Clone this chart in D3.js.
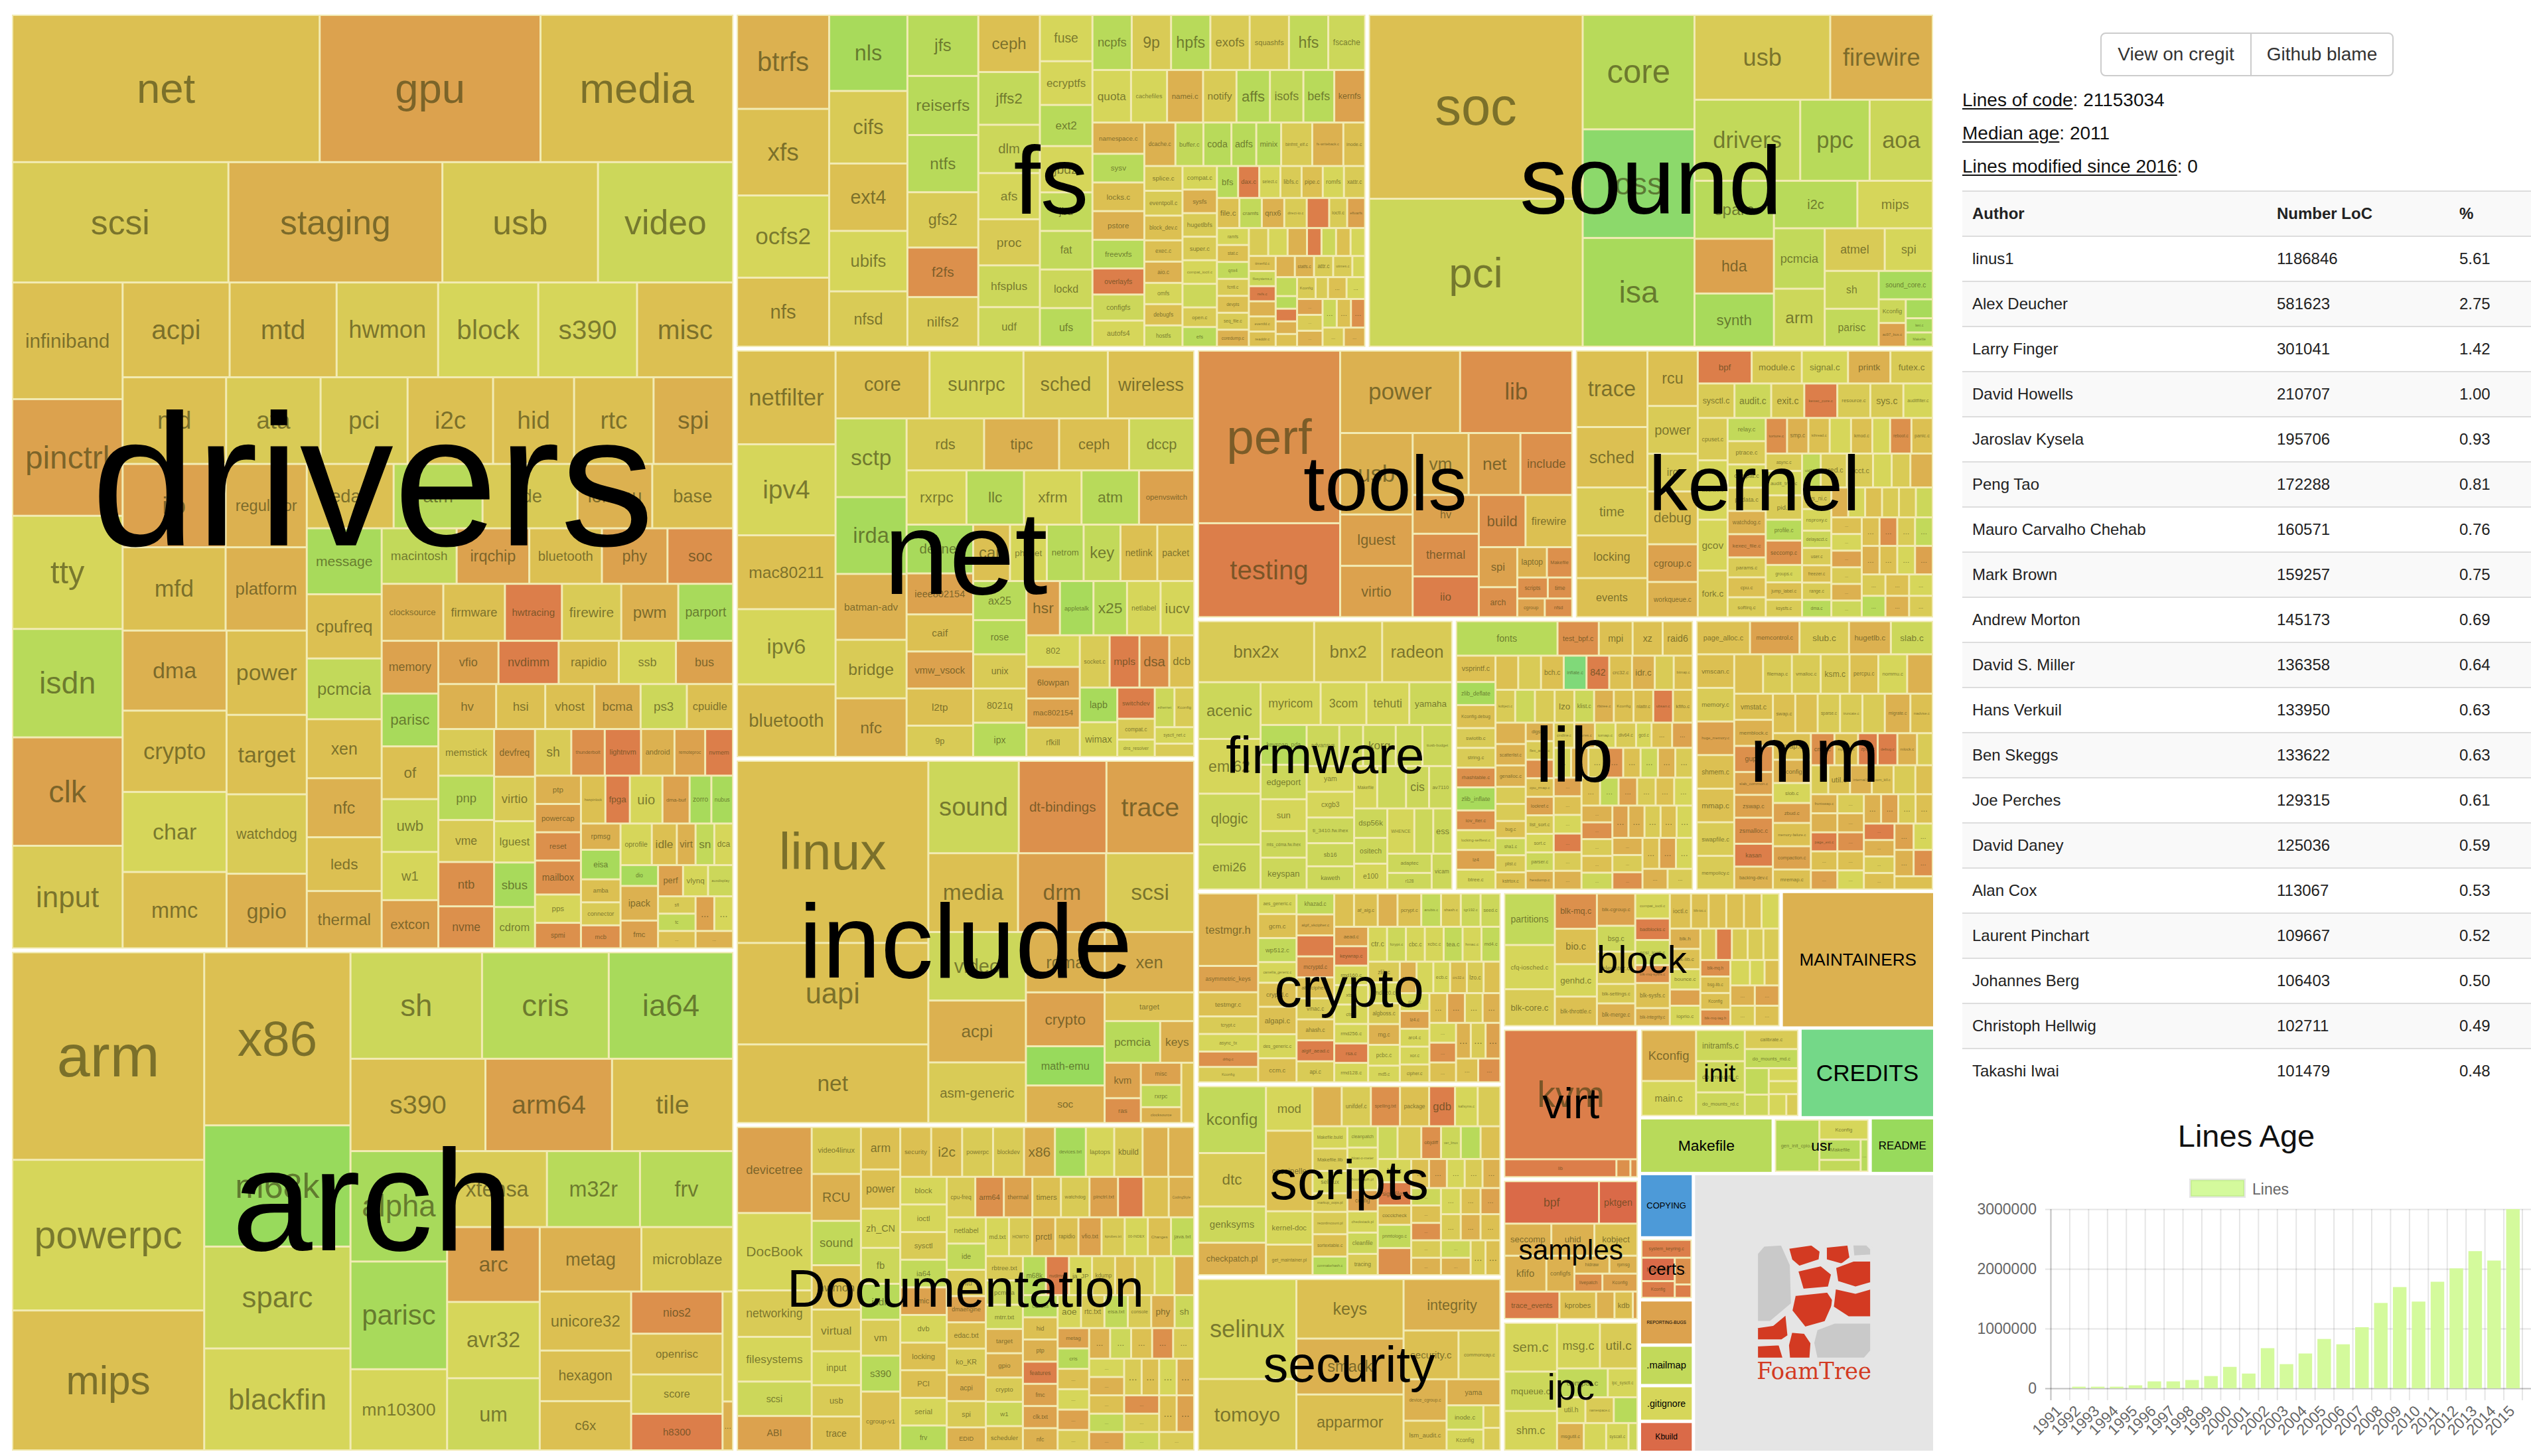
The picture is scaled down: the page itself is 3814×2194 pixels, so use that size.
<!DOCTYPE html>
<html>
<head>
<meta charset="utf-8">
<script src="https://cdnjs.cloudflare.com/ajax/libs/d3/7.8.5/d3.min.js"></script>
<style>
  body { margin: 0; background: #fff; font-family: 'Liberation Sans', Arial, sans-serif; }
  #chart { position: absolute; left: 0; top: 0; }
  .btns { position: absolute; left: 3165px; top: 49px; width: 442px; height: 66px; box-sizing: border-box;
          border: 2px solid #ccc; border-radius: 8px; display: flex; font-size: 28px; color: #333; }
  .btns div { display: flex; align-items: center; justify-content: center; }
  .btns div + div { border-left: 2px solid #ccc; }
  .stat { position: absolute; left: 2957px; font-size: 28px; line-height: 28px; color: #111; }
  .stat u { text-decoration-thickness: 2px; text-underline-offset: 3px; }
  table { position: absolute; left: 2957px; top: 287px; width: 857px; border-collapse: collapse;
          font-size: 24px; color: #222; table-layout: fixed; }
  td, th { height: 66px; border-top: 2px solid #ddd; padding: 0 0 0 15px; text-align: left; }
  th { font-weight: bold; background: #f9f9f9; }
  tr.odd td { background: #f9f9f9; }
</style>
</head>
<body>
<svg id="chart" width="3814" height="2194"></svg>
<div class="btns"><div style="width:224px">View on cregit</div><div style="flex:1">Github blame</div></div>
<div class="stat" style="top:137px"><u>Lines of code</u>: 21153034</div>
<div class="stat" style="top:187px"><u>Median age</u>: 2011</div>
<div class="stat" style="top:237px"><u>Lines modified since 2016</u>: 0</div>
<table id="authors"><colgroup><col style="width:459px"><col style="width:275px"><col></colgroup></table>
<script>
// top level of the tree, in thousands of lines
const topDirs = [['drivers',5280],['arch',2828],['fs',1649],['sound',1481],['net',1470],['include',1312],
  ['Documentation',1173],['tools',795],['kernel',758],['firmware',546],['lib',509],['mm',508],['crypto',459],
  ['scripts',459],['security',417],['block',296],['virt',161],['samples',151],['ipc',140],['init',112],
  ['usr',42],['certs',26]];
const rootFiles = [['MAINTAINERS',163,2012],['CREDITS',94,2001],['Makefile',58,2006],['README',28,2004],
  ['COPYING',27,1993],['REPORTING-BUGS',19,2013],['.mailmap',17,2007],['.gitignore',15,2009],['Kbuild',13,2016]];
const logoSlot = 523;

// second level: [name, thousands of lines, median year]
const driversDirs = [['net',348,2011],['gpu',250,2013],['media',218,2011],['scsi',200,2010],['staging',198,2012],
  ['usb',144,2010],['video',125,2008],['infiniband',99,2011],['pinctrl',99,2013],['tty',96,2009],['isdn',92,2006],
  ['clk',92,2013],['input',87,2010],['acpi',78,2011],['mtd',78,2011],['hwmon',74,2010],['block',73,2009],
  ['s390',72,2009],['misc',70,2011],['md',69,2011],['ata',63,2010],['pci',58,2010],['i2c',57,2011],['hid',54,2011],
  ['rtc',53,2011],['spi',53,2012],['iio',66,2013],['regulator',52,2012],['mfd',66,2011],['platform',52,2012],
  ['dma',64,2012],['crypto',65,2011],['char',64,2009],['mmc',61,2011],['power',52,2011],['target',49,2011],
  ['watchdog',49,2010],['gpio',46,2012],['edac',43,2011],['atm',44,2006],['ide',47,2010],['iommu',37,2012],
  ['base',40,2011],['message',38,2005],['cpufreq',37,2011],['pcmcia',35,2007],['xen',34,2011],['nfc',34,2012],
  ['leds',31,2011],['thermal',33,2012],['macintosh',32,2007],['irqchip',31,2013],['bluetooth',31,2011],
  ['phy',28,2013],['soc',28,2014],['clocksource',27,2012],['firmware',27,2011],['hwtracing',25,2015],
  ['firewire',26,2010],['pwm',25,2012],['parport',24,2005],['memory',23,2013],['parisc',23,2005],['of',23,2011],
  ['uwb',23,2008],['w1',21,2009],['extcon',21,2013],['vfio',20,2013],['nvdimm',20,2015],['rapidio',20,2011],
  ['ssb',19,2009],['bus',19,2013],['hv',20,2012],['hsi',17,2011],['vhost',17,2011],['bcma',16,2012],['ps3',16,2008],
  ['cpuidle',16,2011],['memstick',20,2010],['pnp',19,2006],['vme',18,2010],['ntb',19,2014],['nvme',18,2014],
  ['devfreq',15,2013],['virtio',14,2010],['lguest',13,2009],['sbus',14,2005],['cdrom',13,2007],
  ['sh',13,2010],['thunderbolt',12,2014],['lightnvm',13,2015],['android',12,2012],['remoteproc',11,2013],
  ['nvmem',10,2015],['ptp',10,2012],['powercap',10,2013],['reset',10,2014],['mailbox',12,2014],['pps',10,2009],
  ['spmi',9,2014],['hwspinlock',9,2011],['fpga',9,2015],['uio',12,2009],['dma-buf',10,2013],['zorro',8,2005],
  ['nubus',8,2005],['rpmsg',8,2012],['eisa',9,2005],['amba',7,2011],['connector',7,2010],['mcb',7,2014],
  ['oprofile',10,2009],['idle',8,2011],['virt',6,2012],['sn',6,2007],['dca',6,2009],['dio',6,2005],['ipack',10,2012],
  ['fmc',8,2013],['perf',6,2013],['vlynq',6,2009],['auxdisplay',6,2008],['sfi',5,2010],['tc',5,2007],
  ['...',5,2011],['...',5,2013],['...',5,2009],['...',5,2012]];

const archDirs = [['arm',310,2011],['powerpc',225,2009],['mips',209,2011],['x86',197,2011],['m68k',138,2004],
  ['sparc',116,2008],['blackfin',116,2009],['sh',109,2008],['cris',105,2006],['ia64',103,2005],['s390',97,2011],
  ['arm64',91,2013],['tile',87,2011],['alpha',83,2005],['parisc',81,2005],['mn10300',61,2009],['xtensa',59,2010],
  ['arc',54,2013],['avr32',55,2009],['um',52,2008],['m32r',55,2006],['frv',55,2006],['metag',51,2012],
  ['microblaze',46,2010],['unicore32',42,2011],['hexagon',36,2011],['c6x',35,2011],['nios2',30,2014],
  ['openrisc',29,2011],['score',28,2010],['h8300',26,2015],['Kconfig',9,2010],['...',4,2012]];

const fsDirs = [['btrfs',64,2012],['xfs',59,2011],['ocfs2',56,2009],['nfs',47,2011],['nls',44,2005],['cifs',42,2010],
  ['ext4',39,2011],['ubifs',35,2009],['nfsd',32,2010],['jfs',32,2006],['reiserfs',31,2006],['ntfs',30,2006],
  ['gfs2',29,2010],['f2fs',26,2014],['nilfs2',26,2010],['ceph',26,2011],['jffs2',24,2007],['dlm',22,2008],
  ['afs',21,2009],['proc',21,2010],['hfsplus',19,2008],['udf',18,2008],['fuse',18,2009],['ecryptfs',17,2009],
  ['ext2',16,2006],['jbd2',18,2009],['jbd',15,2007],['fat',15,2007],['lockd',15,2008],['ufs',15,2006],
  ['ncpfs',16,2006],['9p',16,2010],['hpfs',16,2006],['exofs',16,2010],['squashfs',16,2010],['hfs',16,2007],
  ['fscache',15,2008],['quota',15,2009],['cachefiles',14,2009],['namei.c',14,2012],['notify',13,2010],['affs',13,2006],
  ['isofs',13,2007],['befs',12,2006],['kernfs',12,2013],['namespace.c',12,2012],['sysv',11,2006],['locks.c',11,2011],
  ['pstore',11,2012],['freevxfs',11,2006],['overlayfs',10,2015],['configfs',10,2008],['autofs4',10,2009],
  ['dcache.c',10,2012],['buffer.c',9,2007],['coda',9,2006],['adfs',8,2006],['minix',8,2006],['binfmt_elf.c',10,2010],
  ['fs-writeback.c',10,2012],['inode.c',7,2011],['splice.c',7,2010],['eventpoll.c',7,2010],['block_dev.c',7,2011],
  ['exec.c',6,2011],['aio.c',6,2012],['omfs',6,2009],['debugfs',6,2011],['hostfs',6,2008],['compat.c',6,2009],
  ['sysfs',6,2012],['hugetlbfs',6,2010],['super.c',6,2010],['compat_ioctl.c',6,2009],['binfmt_elf_fdpic.c',6,2008],
  ['open.c',5,2010],['efs',5,2006],['bfs',5,2006],['dax.c',5,2015],['select.c',5,2009],['libfs.c',5,2010],
  ['pipe.c',5,2011],['romfs',5,2009],['xattr.c',5,2010],['file.c',5,2011],['cramfs',5,2007],['qnx6',5,2012],
  ['direct-io.c',5,2010],['userfaultfd.c',5,2015],['ioctl.c',4,2010],['efivarfs',4,2013],['ramfs',4,2009],
  ['stat.c',4,2011],['qnx4',4,2007],['fcntl.c',4,2010],['devpts',4,2011],['seq_file.c',4,2010],['coredump.c',4,2012],
  ['mbcache.c',4,2010],['binfmt_misc.c',4,2009],['posix_acl.c',4,2012],['tracefs',3,2015],['exportfs',3,2008],
  ['signalfd.c',3,2011],['char_dev.c',3,2009],['timerfd.c',3,2011],['filesystems.c',3,2008],['nsfs.c',3,2015],
  ['proc_namespace.c',3,2012],['eventfd.c',3,2011],['readdir.c',3,2011],['fhandle.c',3,2012],['statfs.c',3,2012],
  ['attr.c',3,2010],['utimes.c',3,2010],['anon_inodes.c',2,2009],['binfmt_aout.c',3,2007],['dcookies.c',2,2006],
  ['fs_pin.c',2,2015],['mount.h',2,2012],['internal.h',2,2011],['Kconfig',3,2010],['Makefile',2,2010],
  ['...',3,2011],['...',3,2009],['...',3,2013],['...',3,2010],['...',3,2012],['...',3,2008],['...',3,2011],
  ['...',3,2014],['...',3,2010],['...',3,2012]];

const soundDirs = [['soc',307,2011],['pci',247,2008],['core',100,2006],['oss',95,2003],['isa',95,2005],['usb',90,2010],
  ['firewire',68,2012],['drivers',67,2007],['ppc',44,2006],['aoa',40,2008],['sparc',36,2006],['i2c',31,2006],
  ['mips',28,2009],['hda',34,2013],['synth',33,2005],['pcmcia',24,2007],['arm',23,2008],['atmel',20,2010],
  ['spi',16,2009],['sh',16,2008],['parisc',16,2007],['sound_core.c',12,2005],['Kconfig',5,2008],['ac97_bus.c',5,2013],
  ['sound_firmware.c',4,2005],['last.c',3,2005],['Makefile',3,2006]];

const netDirs = [['netfilter',71,2011],['ipv4',69,2009],['mac80211',56,2011],['ipv6',57,2009],['bluetooth',55,2011],
  ['core',49,2011],['sunrpc',49,2009],['sched',44,2010],['wireless',45,2011],['sctp',43,2007],['irda',42,2005],
  ['batman-adv',36,2012],['bridge',32,2010],['nfc',32,2012],['rds',31,2010],['tipc',30,2012],['ceph',28,2011],
  ['dccp',26,2008],['rxrpc',25,2009],['llc',24,2006],['xfrm',24,2009],['atm',24,2006],['openvswitch',23,2013],
  ['decnet',25,2005],['ieee802154',21,2013],['caif',19,2011],['vmw_vsock',19,2013],['l2tp',19,2011],['9p',16,2010],
  ['can',16,2011],['phonet',16,2009],['netrom',16,2006],['key',16,2007],['netlink',16,2011],['packet',16,2011],
  ['ax25',16,2006],['rose',14,2006],['unix',14,2010],['8021q',14,2010],['ipx',14,2006],['hsr',14,2013],
  ['appletalk',14,2005],['x25',14,2006],['netlabel',14,2009],['iucv',14,2009],['802',13,2009],['6lowpan',13,2013],
  ['mac802154',12,2013],['rfkill',12,2010],['socket.c',12,2010],['mpls',12,2015],['dsa',12,2014],['dcb',10,2011],
  ['lapb',10,2005],['wimax',10,2009],['switchdev',9,2015],['compat.c',6,2010],['dns_resolver',5,2009],
  ['ethernet',6,2008],['Kconfig',6,2010],['sysctl_net.c',5,2009],['Makefile',4,2010]];

const includeDirs = [['linux',271,2011],['uapi',151,2011],['net',117,2011],['sound',65,2008],['dt-bindings',63,2014],
  ['trace',63,2013],['media',55,2011],['drm',54,2013],['scsi',54,2010],['video',52,2008],['acpi',47,2012],
  ['asm-generic',46,2010],['rdma',37,2012],['xen',42,2012],['crypto',33,2013],['math-emu',24,2004],['soc',23,2012],
  ['target',20,2011],['pcmcia',18,2006],['keys',11,2012],['kvm',10,2013],['ras',7,2014],['misc',7,2013],
  ['rxrpc',7,2007],['clocksource',5,2012],['memory',6,2011]];

const docDirs = [['devicetree',50,2013],['DocBook',45,2009],['networking',27,2010],['filesystems',26,2009],
  ['scsi',20,2008],['ABI',20,2013],['video4linux',18,2010],['RCU',18,2012],['sound',17,2007],['hwmon',17,2011],
  ['virtual',16,2010],['input',13,2009],['usb',12,2010],['trace',13,2011],['arm',13,2011],['power',12,2011],
  ['zh_CN',12,2009],['fb',11,2008],['isdn',11,2006],['vm',11,2010],['s390',11,2006],['cgroup-v1',18,2011],
  ['security',12,2011],['i2c',12,2011],['powerpc',12,2010],['blockdev',12,2010],['x86',12,2012],['devices.txt',12,2005],
  ['laptops',11,2009],['kbuild',11,2010],['memory-barriers.txt',10,2012],['device-mapper',10,2012],['block',10,2009],
  ['ioctl',10,2009],['sysctl',10,2010],['ia64',10,2007],['mic',10,2013],['dvb',10,2009],['locking',10,2011],
  ['PCI',10,2011],['serial',10,2009],['frv',9,2006],['cpu-freq',9,2010],['arm64',9,2014],['thermal',9,2013],
  ['timers',9,2011],['watchdog',9,2010],['pinctrl.txt',9,2013],['cgroup-v2.txt',8,2015],['dynamic-debug',8,2011],
  ['CodingStyle',8,2012],['netlabel',8,2009],['ide',8,2007],['mtd',8,2010],['dmaengine',8,2013],['edac.txt',8,2011],
  ['ko_KR',8,2010],['acpi',8,2012],['spi',8,2010],['EDID',7,2012],['md.txt',7,2009],['HOWTO',7,2010],['prctl',7,2012],
  ['rapidio',7,2011],['vfio.txt',7,2013],['kprobes.txt',7,2010],['00-INDEX',7,2009],['Changes',7,2011],
  ['java.txt',7,2007],['rbtree.txt',7,2010],['pcmcia',7,2008],['mtrr.txt',7,2008],['target',7,2012],['gpio',7,2012],
  ['crypto',7,2010],['w1',7,2008],['scheduler',7,2011],['m68k',7,2006],['nvdimm',7,2015],['ja_JP',7,2009],
  ['kdump',7,2010],['misc-devices',6,2011],['accounting',6,2010],['connector',6,2009],['kernel-parameters.txt',6,2012],
  ['cdrom',6,2006],['hid',6,2011],['ptp',6,2012],['features',6,2015],['fmc',6,2013],['clk.txt',6,2013],['nfc',6,2012],
  ['aoe',6,2009],['rtc.txt',6,2010],['eisa.txt',6,2007],['console',6,2010],['phy',6,2012],['sh',5,2008],
  ['metag',5,2013],['cris',5,2006],['...',5,2011],['...',5,2009],['...',5,2013],['...',5,2010],['...',5,2012],
  ['...',5,2008],['...',5,2011],['...',5,2014],['...',5,2010],['...',5,2009],['...',5,2012],['...',5,2011],
  ['...',5,2007],['...',5,2013],['...',5,2010],['...',5,2011],['...',5,2009],['...',5,2012],['...',5,2014],
  ['...',5,2010],['...',5,2008],['...',5,2011],['...',5,2013],['...',5,2010]];

const toolsDirs = [['perf',191,2014],['testing',104,2015],['power',77,2012],['lib',72,2014],['usb',46,2012],
  ['lguest',29,2013],['virtio',29,2013],['vm',27,2012],['net',25,2013],['include',25,2014],['hv',20,2013],
  ['thermal',22,2014],['iio',21,2015],['build',19,2014],['firewire',19,2011],['spi',12,2013],['arch',9,2014],
  ['laptop',7,2012],['Makefile',6,2014],['scripts',5,2014],['time',4,2014],['cgroup',4,2013],['nfsd',4,2014]];

const kernelFiles = [['trace',43,2011],['sched',34,2011],['time',27,2010],['locking',24,2011],['events',22,2011],
  ['rcu',22,2011],['power',19,2010],['irq',15,2010],['debug',21,2011],['cgroup.c',15,2013],['workqueue.c',14,2012],
  ['bpf',14,2015],['module.c',13,2010],['signal.c',12,2009],['printk',11,2012],['futex.c',11,2010],['sysctl.c',10,2010],
  ['audit.c',10,2008],['exit.c',9,2010],['kexec_core.c',9,2015],['resource.c',9,2010],['sys.c',9,2010],
  ['auditfilter.c',8,2009],['cpuset.c',10,2010],['auditsc.c',14,2009],['gcov',12,2009],['fork.c',11,2010],
  ['relay.c',7,2007],['ptrace.c',7,2010],['compat.c',7,2009],['padata.c',7,2010],['watchdog.c',7,2012],
  ['kexec_file.c',7,2014],['params.c',6,2010],['cpu.c',6,2011],['softirq.c',6,2010],['torture.c',6,2014],
  ['smp.c',6,2012],['kthread.c',6,2011],['taskstats.c',6,2009],['kmod.c',6,2011],['notifier.c',5,2009],
  ['reboot.c',6,2014],['panic.c',6,2011],['async.c',5,2010],['audit_tree.c',7,2009],['pid.c',7,2010],
  ['profile.c',6,2006],['seccomp.c',7,2014],['groups.c',5,2009],['jump_label.c',5,2011],['ksysfs.c',5,2010],
  ['uid16.c',5,2007],['cred.c',7,2010],['acct.c',7,2010],['capability.c',5,2009],['kallsyms.c',5,2010],
  ['user_namespace.c',6,2012],['sys_ni.c',5,2010],['nsproxy.c',5,2009],['delayacct.c',4,2008],['user.c',4,2010],
  ['freezer.c',4,2011],['range.c',4,2010],['dma.c',4,2006],['Makefile',4,2012],['Kconfig.preempt',4,2009],
  ['stop_machine.c',4,2011],['extable.c',4,2010],['hung_task.c',4,2010],['latencytop.c',4,2008],
  ['...',4,2011],['...',4,2009],['...',4,2013],['...',4,2010],['...',4,2012],['...',4,2008],['...',4,2011],
  ['...',4,2014],['...',4,2010],['...',4,2007],['...',4,2012],['...',4,2011],['...',4,2009],['...',4,2013],
  ['...',4,2010],['...',4,2006],['...',4,2011],['...',4,2012],['...',4,2009],['...',4,2010]];

const firmwareFiles = [['bnx2x',58,2010],['bnx2',34,2010],['radeon',35,2010],['acenic',29,2008],['emi62',28,2009],
  ['qlogic',26,2008],['emi26',23,2008],['myricom',21,2009],['3com',16,2009],['tehuti',15,2009],['yamaha',15,2008],
  ['keyspan_pda',15,2006],['edgeport',13,2008],['sun',12,2009],['mts_cdma.fw.ihex',10,2008],['keyspan',12,2008],
  ['advansys',11,2008],['whiteheat.HEX',8,2008],['korg',11,2008],['mts_gsm.fw.ihex',9,2008],['ttusb-budget',10,2008],
  ['yam',10,2009],['cxgb3',10,2009],['ti_3410.fw.ihex',10,2008],['sb16',9,2008],['kaweth',9,2008],['Makefile',8,2009],
  ['ti_5052.fw.ihex',10,2008],['cis',8,2008],['av7110',8,2008],['dsp56k',8,2008],['ositech',7,2008],['e100',7,2009],
  ['WHENCE',10,2009],['ihex2fw.c',7,2008],['ess',7,2008],['adaptec',7,2008],['r128',6,2008],['vicam',6,2008]];

const libFiles = [['fonts',27,2006],['test_bpf.c',11,2014],['mpi',9,2011],['xz',8,2011],['raid6',8,2011],
  ['vsprintf.c',8,2011],['zlib_deflate',7,2005],['Kconfig.debug',7,2011],['swiotlb.c',6,2010],['string.c',6,2010],
  ['rhashtable.c',6,2014],['zlib_inflate',7,2005],['iov_iter.c',6,2014],['locking-selftest.c',6,2009],['lz4',6,2013],
  ['btree.c',6,2009],['radix-tree.c',6,2011],['dma-debug.c',6,2010],['bch.c',6,2011],['inflate.c',6,2002],
  ['842',6,2015],['crc32.c',6,2011],['idr.c',6,2012],['debugobjects.c',5,2010],['bitmap.c',5,2011],['kobject.c',5,2010],
  ['textsearch.c',5,2008],['lru_cache.c',5,2010],['lzo',5,2010],['klist.c',5,2008],['rbtree.c',5,2012],['Kconfig',5,2011],
  ['nlattr.c',5,2011],['ubsan.c',5,2015],['kfifo.c',5,2011],['dynamic_debug.c',5,2012],['scatterlist.c',5,2012],
  ['genalloc.c',5,2012],['kobject_uevent.c',4,2010],['percpu_counter.c',4,2010],['bug.c',4,2011],['sha1.c',4,2008],
  ['plist.c',4,2010],['kstrtox.c',4,2011],['digsig.c',4,2012],['flex_array.c',4,2010],['string_helpers.c',4,2014],
  ['cpu_rmap.c',4,2011],['lockref.c',4,2013],['list_sort.c',4,2010],['sort.c',4,2009],['parser.c',4,2008],
  ['hexdump.c',4,2012],['cmdline.c',4,2010],['devres.c',4,2012],['iomap.c',4,2009],['div64.c',4,2010],['gcd.c',3,2009],
  ['...',4,2011],['...',4,2013],['...',4,2009],['...',4,2012],['...',4,2010],['...',4,2014],['...',4,2011],
  ['...',4,2008],['...',4,2012],['...',4,2010],['...',4,2013],['...',4,2011],['...',4,2009],['...',4,2015],
  ['...',4,2010],['...',4,2012],['...',4,2011],['...',4,2007],['...',4,2013],['...',4,2010],['...',4,2011],
  ['...',4,2009],['...',4,2012],['...',4,2014],['...',4,2010],['...',4,2011],['...',4,2008],['...',4,2013],
  ['...',4,2012],['...',4,2010],['...',4,2011],['...',4,2009],['...',4,2012],['...',4,2010],['...',4,2014],
  ['...',4,2011],['...',4,2013],['...',4,2009],['...',4,2012],['...',4,2010]];

const mmFiles = [['page_alloc.c',14,2011],['memcontrol.c',13,2013],['slub.c',13,2010],['hugetlb.c',11,2012],
  ['slab.c',11,2008],['vmscan.c',10,2011],['memory.c',10,2010],['huge_memory.c',10,2013],['shmem.c',10,2011],
  ['mmap.c',10,2011],['swapfile.c',10,2010],['mempolicy.c',10,2010],['page-writeback.c',9,2011],['filemap.c',9,2010],
  ['vmalloc.c',9,2010],['ksm.c',9,2010],['percpu.c',9,2011],['nommu.c',9,2009],['memory_hotplug.c',8,2012],
  ['vmstat.c',8,2011],['memblock.c',8,2012],['gup.c',8,2014],['slab_common.c',7,2013],['zswap.c',7,2013],
  ['zsmalloc.c',8,2014],['kasan',7,2015],['backing-dev.c',7,2012],['swap.c',7,2011],['bootmem.c',7,2011],
  ['sparse.c',7,2010],['truncate.c',7,2010],['kmemleak.c',7,2010],['migrate.c',8,2012],['madvise.c',7,2011],
  ['rmap.c',8,2011],['Kconfig',7,2012],['slob.c',6,2009],['zbud.c',6,2013],['memory-failure.c',7,2011],
  ['compaction.c',7,2013],['mremap.c',6,2011],['cma.c',6,2014],['mprotect.c',6,2011],['zpool.c',5,2015],
  ['debug.c',5,2015],['mlock.c',5,2012],['page_io.c',4,2010],['mincore.c',4,2010],['util.c',5,2011],
  ['internal.h',5,2012],['oom_kill.c',5,2011],['readahead.c',5,2010],['mmu_notifier.c',4,2011],['frontswap.c',4,2012],
  ['cleancache.c',4,2012],['page_ext.c',4,2015],['...',4,2011],['...',4,2013],['...',4,2010],['...',4,2012],
  ['...',4,2014],['...',4,2011],['...',4,2009],['...',4,2012],['...',4,2013],['...',4,2010],['...',4,2011],
  ['...',4,2015],['...',4,2012],['...',4,2010],['...',4,2011],['...',4,2013],['...',4,2009],['...',4,2012],
  ['...',4,2014],['...',4,2011]];

const cryptoFiles = [['testmgr.h',33,2012],['asymmetric_keys',12,2013],['testmgr.c',11,2011],['tcrypt.c',8,2010],
  ['async_tx',8,2009],['drbg.c',7,2014],['Kconfig',7,2010],['aes_generic.c',6,2009],['gcm.c',7,2011],['wp512.c',7,2007],
  ['camellia_generic.c',6,2009],['cryptd.c',7,2011],['algapi.c',8,2011],['des_generic.c',7,2009],['ccm.c',7,2011],
  ['khazad.c',6,2007],['algif_skcipher.c',6,2012],['chacha20poly1305.c',6,2015],['mcryptd.c',6,2014],
  ['ablkcipher.c',6,2011],['vmac.c',6,2010],['ahash.c',6,2011],['algif_aead.c',6,2015],['api.c',6,2010],
  ['cryptomgr.c',5,2011],['af_alg.c',6,2011],['authencesn.c',5,2012],['pcrypt.c',6,2011],['anubis.c',5,2007],
  ['shash.c',5,2010],['tgr192.c',5,2008],['seed.c',5,2008],['aead.c',5,2013],['keywrap.c',5,2015],['rmd160.c',5,2009],
  ['xts.c',5,2009],['cts.c',5,2009],['rmd256.c',5,2009],['rsa.c',5,2015],['rmd128.c',5,2009],['ctr.c',5,2009],
  ['fcrypt.c',5,2008],['cbc.c',5,2009],['xcbc.c',5,2009],['tea.c',5,2007],['hmac.c',5,2009],['md4.c',5,2007],
  ['zlib.c',5,2010],['rmd320.c',5,2009],['algboss.c',5,2010],['rng.c',5,2012],['pcbc.c',5,2009],['md5.c',4,2009],
  ['seqiv.c',4,2012],['deflate.c',4,2009],['ecb.c',4,2009],['crc32.c',4,2011],['lzo.c',4,2010],['Makefile',4,2011],
  ['proc.c',4,2009],['lz4.c',4,2013],['arc4.c',4,2009],['xor.c',4,2009],['cipher.c',4,2010],['...',4,2011],
  ['...',4,2013],['...',4,2010],['...',4,2012],['...',4,2009],['...',4,2014],['...',4,2011],['...',4,2012],
  ['...',4,2010],['...',4,2013],['...',4,2011],['...',4,2014]];

const scriptsFiles = [['kconfig',35,2007],['dtc',28,2010],['genksyms',19,2008],['checkpatch.pl',17,2012],
  ['mod',16,2009],['coccinelle',29,2011],['kernel-doc',12,2009],['get_maintainer.pl',11,2011],
  ['asn1_compiler.c',9,2012],['unifdef.c',9,2010],['spelling.txt',9,2014],['package',9,2011],['gdb',8,2015],
  ['kallsyms.c',7,2009],['namespace.pl',7,2010],['Makefile.build',6,2009],['Makefile.lib',6,2010],['selinux',6,2009],
  ['markup_oops.pl',5,2010],['recordmcount.pl',6,2010],['sortextable.c',6,2011],['conmakehash.c',5,2006],
  ['cleanpatch',5,2008],['bloat-o-meter',5,2009],['bootgraph.pl',5,2009],['config',5,2013],['checkstack.pl',5,2009],
  ['cleanfile',5,2008],['tracing',5,2010],['show_delta',5,2008],['recordmcount.h',6,2010],['objdiff',5,2014],
  ['ver_linux',5,2008],['patch-kernel',5,2006],['headers_install.sh',5,2011],['basic',6,2009],['sign-file.c',6,2015],
  ['coccicheck',5,2011],['pnmtologo.c',6,2007],['analyze_suspend.py',7,2014],['...',4,2011],['...',4,2013],
  ['...',4,2009],['...',4,2010],['...',4,2012],['...',4,2008],['...',4,2011],['...',4,2014],['...',4,2010],
  ['...',4,2012],['...',4,2009],['...',4,2011],['...',4,2013],['...',4,2010],['...',4,2012],['...',4,2011],
  ['...',4,2008],['...',4,2012],['...',4,2010],['...',4,2011]];

const securityFiles = [['selinux',77,2009],['tomoyo',55,2010],['keys',50,2011],['smack',47,2012],['apparmor',47,2011],
  ['integrity',39,2012],['security.c',21,2011],['commoncap.c',16,2010],['device_cgroup.c',14,2012],
  ['lsm_audit.c',10,2011],['yama',11,2012],['inode.c',7,2008],['Kconfig',6,2009],['min_addr.c',3,2010],['Makefile',3,2010]];

const blockFiles = [['partitions',21,2007],['cfq-iosched.c',18,2009],['blk-core.c',15,2010],['blk-mq.c',12,2014],
  ['bio.c',12,2011],['genhd.c',11,2009],['blk-throttle.c',10,2011],['blk-cgroup.c',10,2013],['bsg.c',8,2008],
  ['elevator.c',10,2010],['blk-settings.c',6,2010],['blk-merge.c',7,2012],['compat_ioctl.c',7,2009],
  ['badblocks.c',6,2015],['scsi_ioctl.c',7,2008],['blk-mq-sysfs.c',5,2014],['blk-sysfs.c',7,2011],
  ['blk-integrity.c',5,2012],['ioctl.c',6,2011],['blk-ioc.c',5,2011],['partition-generic.c',5,2011],
  ['blk-flush.c',5,2011],['bio-integrity.c',5,2011],['blk-tag.c',5,2009],['blk.h',5,2012],['blk-lib.c',5,2011],
  ['bounce.c',5,2009],['cmdline-parser.c',4,2013],['ioprio.c',5,2009],['blk-timeout.c',4,2010],['t10-pi.c',4,2015],
  ['blk-softirq.c',4,2010],['blk-map.c',4,2010],['blk-exec.c',4,2010],['blk-mq.h',4,2014],['bsg-lib.c',4,2011],
  ['Kconfig',4,2011],['blk-mq-tag.h',4,2014],['noop-iosched.c',4,2009],['Kconfig.iosched',3,2009],['Makefile',3,2011],
  ['...',4,2012],['...',4,2010],['...',4,2013],['...',4,2011]];

const virtDirs = [['kvm',137,2015],['lib',16,2015],['Kconfig',2,2014],['Makefile',1,2014]];
const samplesDirs = [['bpf',32,2016],['pktgen',13,2016],['seccomp',12,2012],['uhid',11,2012],['kobject',11,2011],
  ['kfifo',12,2012],['configfs',8,2012],['hidraw',5,2012],['rpmsg',4,2012],['livepatch',4,2014],['Kconfig',5,2013],
  ['trace_events',12,2015],['kprobes',8,2011],['hw_breakpoint',4,2012],['kdb',4,2011],['...',1,2013]];
const ipcFiles = [['sem.c',21,2009],['mqueue.c',17,2008],['shm.c',17,2009],['msg.c',16,2009],['util.c',14,2010],
  ['compat.c',12,2007],['ipc_sysctl.c',7,2009],['util.h',6,2009],['namespace.c',6,2010],['compat_mq.c',5,2006],
  ['msgutil.c',6,2012],['mq_sysctl.c',5,2009],['syscall.c',5,2009],['Makefile',2,2008]];
const initFiles = [['Kconfig',22,2012],['main.c',15,2009],['initramfs.c',12,2008],['do_mounts.c',12,2008],
  ['do_mounts_rd.c',9,2008],['calibrate.c',8,2010],['do_mounts_md.c',8,2007],['do_mounts_initrd.c',5,2007],
  ['version.c',3,2009],['noinitramfs.c',3,2009],['do_mounts.h',4,2008],['Makefile',3,2009],['init_task.c',2,2010]];
const usrFiles = [['gen_init_cpio.c',19,2006],['Kconfig',8,2009],['Makefile',7,2006],['initramfs_data.S',4,2007],['...',2,2006]];
const certsFiles = [['system_keyring.c',8,2015],['Makefile',7,2016],['Kconfig',5,2015],['...',4,2014],['.gitignore',2,2015]];

// right panel
const authors = ['linus1','Alex Deucher','Larry Finger','David Howells','Jaroslav Kysela','Peng Tao',
  'Mauro Carvalho Chehab','Mark Brown','Andrew Morton','David S. Miller','Hans Verkuil','Ben Skeggs','Joe Perches',
  'David Daney','Alan Cox','Laurent Pinchart','Johannes Berg','Christoph Hellwig','Takashi Iwai'];
const authorLoc = [1186846,581623,301041,210707,195706,172288,160571,159257,145173,136358,133950,133622,129315,
  125036,113067,109667,106403,102711,101479];
const authorPct = ['5.61','2.75','1.42','1.00','0.93','0.81','0.76','0.75','0.69','0.64','0.63','0.63','0.61',
  '0.59','0.53','0.52','0.50','0.49','0.48'];

const years = ['1991','1992','1993','1994','1995','1996','1997','1998','1999','2000','2001','2002','2003','2004',
  '2005','2006','2007','2008','2009','2010','2011','2012','2013','2014','2015'];
const linesByYear = [0,27000,27000,27000,50000,116000,116000,139000,205000,359000,247000,672000,405000,583000,
  826000,737000,1023000,1429000,1695000,1452000,1784000,2008000,2297000,2139000,3000000];

// how each block is split: row = side by side, col = stacked, sq = squarified rest
const rootPlan = ['row', ['col','drivers','arch'], ['col', ['row','fs','sound'], ['row',
  ['col','net','include','Documentation'],
  ['col', ['row','tools','kernel'], ['row','firmware','lib','mm'], ['row',
    ['col','crypto','scripts','security'],
    ['col', ['row','block','MAINTAINERS'], ['row', ['col','virt','samples','ipc'],
      ['col', ['row','init','CREDITS'], ['row','Makefile','usr','README'],
        ['row', ['col','COPYING','certs','REPORTING-BUGS','.mailmap','.gitignore','Kbuild'], 'FoamTree']]]]]]]]];

const driversPlan = ['col', ['row','net','gpu','media'], ['row','scsi','staging','usb','video'], ['row',
  ['col','infiniband','pinctrl','tty','isdn','clk','input'],
  ['col', ['row','acpi','mtd','hwmon','block','s390','misc'], ['row','md','ata','pci','i2c','hid','rtc','spi'], ['row',
    ['col', ['row','iio','regulator'], ['row','mfd','platform'],
      ['row', ['col','dma','crypto','char','mmc'], ['col','power','target','watchdog','gpio']]],
    ['col', ['row','edac','atm','ide','iommu','base'], ['row',
      ['col','message','cpufreq','pcmcia','xen','nfc','leds','thermal'],
      ['col', ['row','macintosh','irqchip','bluetooth','phy','soc'],
        ['row','clocksource','firmware','hwtracing','firewire','pwm','parport'],
        ['row', ['col','memory','parisc','of','uwb','w1','extcon'],
          ['col', ['row','vfio','nvdimm','rapidio','ssb','bus'], ['row','hv','hsi','vhost','bcma','ps3','cpuidle'],
            ['row', ['col','memstick','pnp','vme','ntb','nvme'], ['col','devfreq','virtio','lguest','sbus','cdrom'], ['sq','*']]]]]]]]]]];
const archPlan = ['row', ['col','arm','powerpc','mips'], ['col','x86','m68k','sparc','blackfin'], ['col',
  ['row','sh','cris','ia64'], ['row','s390','arm64','tile'], ['row', ['col','alpha','parisc','mn10300'],
    ['col', ['row','xtensa','m32r','frv'], ['row', ['col','arc','avr32','um'], ['col', ['row','metag','microblaze'],
      ['row', ['col','unicore32','hexagon','c6x'], ['col','nios2','openrisc','score','h8300'], ['sq','*']]]]]]]];
const fsPlan = ['row', ['col','btrfs','xfs','ocfs2','nfs'], ['col','nls','cifs','ext4','ubifs','nfsd'],
  ['col','jfs','reiserfs','ntfs','gfs2','f2fs','nilfs2'], ['col','ceph','jffs2','dlm','afs','proc','hfsplus','udf'],
  ['col','fuse','ecryptfs','ext2','jbd2','jbd','fat','lockd','ufs'], ['sq','*']];
const soundPlan = ['row', ['col','soc','pci'], ['col','core','oss','isa'], ['col', ['row','usb','firewire'],
  ['row','drivers','ppc','aoa'], ['row', ['col','sparc','hda','synth'], ['col', ['row','i2c','mips'],
    ['row', ['col','pcmcia','arm'], ['col', ['row','atmel','spi'], ['row', ['col','sh','parisc'],
      ['col','sound_core.c', ['row', ['col','Kconfig','ac97_bus.c'], ['col','sound_firmware.c','last.c','Makefile']]]]]]]]]];
const netPlan = ['row', ['col','netfilter','ipv4','mac80211','ipv6','bluetooth'], ['col',
  ['row','core','sunrpc','sched','wireless'], ['row', ['col','sctp','irda','batman-adv','bridge','nfc'],
    ['col', ['row','rds','tipc','ceph','dccp'], ['row','rxrpc','llc','xfrm','atm','openvswitch'], ['sq','*']]]]];
const includePlan = ['row', ['col','linux','uapi','net'], ['col', ['row','sound','dt-bindings','trace'],
  ['row','media','drm','scsi'], ['row', ['col','video','acpi','asm-generic'], ['col', ['row','rdma','xen'],
    ['row', ['col','crypto','math-emu','soc'], ['col','target', ['row','pcmcia','keys'],
      ['row', ['col','kvm','ras'], ['col','misc','rxrpc','clocksource'], 'memory']]]]]]];
const docPlan = ['row', ['col','devicetree','DocBook','networking','filesystems','scsi','ABI'],
  ['col','video4linux','RCU','sound','hwmon','virtual','input','usb','trace'],
  ['col','arm','power','zh_CN','fb','isdn','vm','s390','cgroup-v1'], ['sq','*']];
const toolsPlan = ['row', ['col','perf','testing'], ['col', ['row','power','lib'], ['row',
  ['col','usb','lguest','virtio'], ['col', ['row','vm','net','include'], ['row', ['col','hv','thermal','iio'],
    ['col', ['row','build','firewire'], ['row', ['col','spi','arch'],
      ['col', ['row','laptop','Makefile'], ['row','scripts','time'], ['row','cgroup','nfsd']]]]]]]]];
const kernelPlan = ['row', ['col','trace','sched','time','locking','events'],
  ['col','rcu','power','irq','debug','cgroup.c','workqueue.c'],
  ['col', ['row','bpf','module.c','signal.c','printk','futex.c'],
    ['row','sysctl.c','audit.c','exit.c','kexec_core.c','resource.c','sys.c','auditfilter.c'],
    ['row', ['col','cpuset.c','auditsc.c','gcov','fork.c'], ['sq','*']]]];
const firmwarePlan = ['col', ['row','bnx2x','bnx2','radeon'], ['row', ['col','acenic','emi62','qlogic','emi26'],
  ['col', ['row','myricom','3com','tehuti','yamaha'], ['sq','*']]]];
const libPlan = ['col', ['row','fonts','test_bpf.c','mpi','xz','raid6'], ['sq','*']];
const mmPlan = ['col', ['row','page_alloc.c','memcontrol.c','slub.c','hugetlb.c','slab.c'],
  ['row', ['col','vmscan.c','memory.c','huge_memory.c','shmem.c','mmap.c','swapfile.c','mempolicy.c'], ['sq','*']]];
const cryptoPlan = ['row', ['col','testmgr.h','asymmetric_keys','testmgr.c','tcrypt.c','async_tx','drbg.c','Kconfig'], ['sq','*']];
const scriptsPlan = ['row', ['col','kconfig','dtc','genksyms','checkpatch.pl'],
  ['col','mod','coccinelle','kernel-doc','get_maintainer.pl'], ['sq','*']];
const securityPlan = ['row', ['col','selinux','tomoyo'], ['col','keys','smack','apparmor'], ['col','integrity',
  ['row','security.c','commoncap.c'], ['row', ['col','device_cgroup.c','lsm_audit.c'],
    ['col','yama', ['row', ['col','inode.c','Kconfig'], ['col','min_addr.c','Makefile']]]]]];
const blockPlan = ['row', ['col','partitions','cfq-iosched.c','blk-core.c'], ['col','blk-mq.c','bio.c','genhd.c','blk-throttle.c'],
  ['col','blk-cgroup.c','bsg.c','elevator.c','blk-settings.c','blk-merge.c'], ['sq','*']];
const virtPlan = ['col','kvm', ['row','lib','Kconfig','Makefile']];
const samplesPlan = ['col', ['row','bpf','pktgen'], ['row','seccomp','uhid','kobject'],
  ['row','kfifo','configfs', ['col', ['row','hidraw','rpmsg'], ['row','livepatch','Kconfig']]],
  ['row','trace_events','kprobes','hw_breakpoint','kdb','...']];
const ipcPlan = ['row', ['col','sem.c','mqueue.c','shm.c'], ['col', ['row','msg.c','util.c'], ['row','compat.c','ipc_sysctl.c'],
  ['row','util.h','namespace.c','compat_mq.c'], ['row','msgutil.c','mq_sysctl.c','syscall.c','Makefile']]];
const initPlan = ['row', ['col','Kconfig','main.c'], ['col','initramfs.c','do_mounts.c','do_mounts_rd.c'],
  ['col','calibrate.c','do_mounts_md.c', ['row', ['col','do_mounts_initrd.c','do_mounts.h'],
    ['col','version.c','noinitramfs.c', ['row','Makefile','init_task.c']]]]];
const usrPlan = ['row','gen_init_cpio.c', ['col','Kconfig', ['row', ['col','Makefile','initramfs_data.S'], '...']]];
const certsPlan = ['col','system_keyring.c', ['row', ['col','Makefile','Kconfig'], ['col','...','.gitignore']]];

const subLists = { drivers: driversDirs, arch: archDirs, fs: fsDirs, sound: soundDirs, net: netDirs,
  include: includeDirs, Documentation: docDirs, tools: toolsDirs, kernel: kernelFiles, firmware: firmwareFiles,
  lib: libFiles, mm: mmFiles, crypto: cryptoFiles, scripts: scriptsFiles, security: securityFiles, block: blockFiles,
  virt: virtDirs, samples: samplesDirs, ipc: ipcFiles, init: initFiles, usr: usrFiles, certs: certsFiles };
const plans = { drivers: driversPlan, arch: archPlan, fs: fsPlan, sound: soundPlan, net: netPlan, include: includePlan,
  Documentation: docPlan, tools: toolsPlan, kernel: kernelPlan, firmware: firmwarePlan, lib: libPlan, mm: mmPlan,
  crypto: cryptoPlan, scripts: scriptsPlan, security: securityPlan, block: blockPlan, virt: virtPlan,
  samples: samplesPlan, ipc: ipcPlan, init: initPlan, usr: usrPlan, certs: certsPlan };

const ageColor = d3.scaleLinear()
  .domain([1993, 2001, 2004, 2006, 2009, 2011, 2013, 2015, 2016])
  .range(['#4d9ad8', '#74d888', '#98da5c', '#b8da5a', '#d6d65a', '#dcc052', '#dca24e', '#dc7e4a', '#da6a48'])
  .clamp(true);
const cream = '#f2ebb4';
const font = "'Liberation Sans', Arial, sans-serif";

function collectNames(plan, set) {
  if (typeof plan === 'string') set.add(plan);
  else plan.slice(1).forEach(p => collectNames(p, set));
  return set;
}
function toTree(plan, list, named) {
  if (typeof plan === 'string') {
    const it = list.find(d => d[0] === plan);
    return { name: it[0], loc: it[1], age: it[2] };
  }
  if (plan[0] === 'sq' && plan[1] === '*') {
    return { tile: 'sq', children: list.filter(d => !named.has(d[0])).map(d => ({ name: d[0], loc: d[1], age: d[2] })) };
  }
  return { tile: plan[0], children: plan.slice(1).map(p => toTree(p, list, named)) };
}
function pickTile(node, x0, y0, x1, y1) {
  if (node.data.tile === 'row') d3.treemapDice(node, x0, y0, x1, y1);
  else if (node.data.tile === 'col') d3.treemapSlice(node, x0, y0, x1, y1);
  else d3.treemapSquarify(node, x0, y0, x1, y1);
}
function layout(plan, list, w, h, gap) {
  const root = d3.hierarchy(toTree(plan, list, collectNames(plan, new Set())))
    .sum(d => d.children ? 0 : d.loc);
  d3.treemap().size([w, h]).paddingInner(gap).tile(pickTile)(root);
  return root.leaves();
}

const ctx = document.createElement('canvas').getContext('2d');
ctx.font = "100px 'Liberation Sans'";
function fitSize(text, w, h) {
  return Math.min(0.29 * h, 0.78 * w / (ctx.measureText(text).width / 100));
}

const svg = d3.select('#chart');
const tree = svg.append('g').attr('transform', 'translate(18,22)');
const cellLayer = tree.append('g');
const subLabelLayer = tree.append('g');
const topLabelLayer = tree.append('g');
const topLabels = [];

const topList = topDirs.concat(rootFiles, [['FoamTree', logoSlot]]);
layout(rootPlan, topList, 2895, 2164, 5).forEach(leaf => {
  const name = leaf.data.name;
  const w = leaf.x1 - leaf.x0, h = leaf.y1 - leaf.y0;
  if (name === 'FoamTree') { drawLogo(leaf.x0, leaf.y0, w, h); return; }
  const subs = subLists[name];
  if (!subs) {
    cellLayer.append('rect').attr('x', leaf.x0).attr('y', leaf.y0).attr('width', w).attr('height', h)
      .attr('fill', ageColor(leaf.data.age));
    topLabels.push({ name, cx: leaf.x0 + w / 2, cy: leaf.y0 + h / 2, size: fitSize(name, w, h) });
    return;
  }
  cellLayer.append('rect').attr('x', leaf.x0).attr('y', leaf.y0).attr('width', w).attr('height', h).attr('fill', cream);
  const cells = layout(plans[name], subs, w - 4, h - 4, 3);
  const g = cellLayer.append('g').attr('transform', `translate(${leaf.x0 + 2},${leaf.y0 + 2})`);
  g.selectAll('rect').data(cells).join('rect')
    .attr('x', d => d.x0).attr('y', d => d.y0)
    .attr('width', d => Math.max(0, d.x1 - d.x0)).attr('height', d => Math.max(0, d.y1 - d.y0))
    .attr('fill', d => ageColor(d.data.age));
  const labelled = cells.map(d => ({ d, size: fitSize(d.data.name, d.x1 - d.x0, d.y1 - d.y0) })).filter(o => o.size >= 5);
  subLabelLayer.append('g').attr('transform', `translate(${leaf.x0 + 2},${leaf.y0 + 2})`)
    .selectAll('text').data(labelled).join('text')
    .attr('x', o => (o.d.x0 + o.d.x1) / 2).attr('y', o => (o.d.y0 + o.d.y1) / 2 + o.size * 0.34)
    .attr('text-anchor', 'middle').attr('font-family', font).attr('font-size', o => o.size)
    .attr('fill', '#3a3a10').attr('fill-opacity', 0.6).text(o => o.d.data.name);
  topLabels.push({ name, cx: leaf.x0 + w / 2, cy: leaf.y0 + h / 2, size: fitSize(name, w, h) });
});

topLabelLayer.selectAll('text').data(topLabels).join('text')
  .attr('x', d => d.cx).attr('y', d => d.cy + d.size * 0.34)
  .attr('text-anchor', 'middle').attr('font-family', font).attr('font-size', d => d.size)
  .attr('fill', '#000').text(d => d.name);

function drawLogo(x, y, w, h) {
  const g = cellLayer.append('g');
  g.append('rect').attr('x', x).attr('y', y).attr('width', w).attr('height', h).attr('fill', '#e5e5e5');
  const s = 1.73, ox = x + (w - 173) / 2, oy = y + 104;
  const grey = [
    [[0,8],[6,1],[22,0],[30,18],[31,52],[12,68],[0,68]],
    [[83,0],[96,0],[100,4],[100,10],[84,11]],
    [[52,74],[68,68],[100,68],[100,93],[94,100],[52,100],[49,86]]];
  const red = [
    [[27,3],[48,0],[56,6],[55,14],[37,20],[30,14]],
    [[60,2],[80,0],[82,12],[74,18],[60,14]],
    [[35,23],[56,18],[66,26],[63,38],[40,40]],
    [[68,20],[84,14],[100,14],[100,34],[86,38],[70,33]],
    [[33,44],[62,41],[68,50],[60,68],[42,73],[30,58]],
    [[68,38],[86,42],[100,38],[100,64],[80,64],[66,55]],
    [[0,72],[14,70],[26,60],[28,80],[22,84],[0,84]],
    [[0,88],[20,87],[24,100],[0,100]],
    [[30,76],[42,77],[48,86],[47,100],[28,100],[27,88]]];
  const line = d3.line().x(p => ox + p[0] * s).y(p => oy + p[1] * s).curve(d3.curveLinearClosed);
  g.selectAll('path.g').data(grey).join('path').attr('class', 'g').attr('d', line)
    .attr('fill', '#c9c9c9').attr('stroke', '#e5e5e5').attr('stroke-width', 4).attr('stroke-linejoin', 'round');
  g.selectAll('path.r').data(red).join('path').attr('class', 'r').attr('d', line)
    .attr('fill', '#d33a22').attr('stroke', '#e5e5e5').attr('stroke-width', 4).attr('stroke-linejoin', 'round');
  g.append('text').attr('x', ox).attr('y', oy + 100 * s + 30).attr('textLength', 173)
    .attr('lengthAdjust', 'spacingAndGlyphs').attr('font-family', "'DejaVu Serif', serif")
    .attr('font-size', 36).attr('fill', '#d33a22').text('FoamTree');
}

// authors table
const table = d3.select('#authors');
table.append('tr').selectAll('th').data(['Author', 'Number LoC', '%']).join('th').text(d => d);
table.selectAll('tr.row').data(authors).join('tr')
  .attr('class', (d, i) => 'row' + (i % 2 ? ' odd' : ''))
  .selectAll('td').data((d, i) => [d, authorLoc[i], authorPct[i]]).join('td').text(d => d);

// lines age bar chart
const chart = svg.append('g');
const slot = d3.scalePoint().domain(years).range([3090, 3090 + 24 * 711 / 25]);
const xBar = d3.scaleBand().domain(years).range([3090, 3801]).paddingInner(0.28).paddingOuter(0.14);
const y = d3.scaleLinear().domain([0, 3000000]).range([2092, 1822]);

chart.append('text').attr('x', 3385).attr('y', 1728).attr('text-anchor', 'middle')
  .attr('font-family', font).attr('font-size', 47).attr('fill', '#111').text('Lines Age');
chart.append('rect').attr('x', 3299).attr('y', 1776).attr('width', 85).attr('height', 29).attr('fill', '#e6e6e6');
chart.append('rect').attr('x', 3302).attr('y', 1779).attr('width', 79).attr('height', 23)
  .attr('fill', '#d4fa9c').attr('stroke', '#c2ee8c').attr('stroke-width', 1.5);
chart.append('text').attr('x', 3394).attr('y', 1800).attr('font-family', font).attr('font-size', 23)
  .attr('fill', '#666').text('Lines');

const yAxis = chart.append('g').attr('transform', 'translate(3090,0)')
  .call(d3.axisLeft(y).tickValues([0, 1000000, 2000000, 3000000]).tickFormat(d3.format('d'))
    .tickSizeInner(-724).tickSizeOuter(0).tickPadding(21));
yAxis.select('.domain').remove();
yAxis.selectAll('.tick line').attr('x1', -8).attr('stroke', d => d === 0 ? 'rgba(0,0,0,0.25)' : 'rgba(0,0,0,0.1)')
  .attr('stroke-width', 2);
yAxis.selectAll('.tick text').attr('font-family', font).attr('font-size', 23).attr('fill', '#666');

const xAxis = chart.append('g').attr('transform', 'translate(0,2092)')
  .call(d3.axisBottom(slot).tickSizeOuter(0));
xAxis.select('.domain').remove();
xAxis.selectAll('.tick line').attr('y1', 18).attr('y2', -270)
  .attr('stroke', (d, i) => i === 0 ? 'rgba(0,0,0,0.25)' : 'rgba(0,0,0,0.1)').attr('stroke-width', 2);
xAxis.selectAll('.tick text').attr('y', 0).attr('dy', '0.35em').attr('text-anchor', 'end')
  .attr('transform', 'translate(12,30) rotate(-45)')
  .attr('font-family', font).attr('font-size', 23).attr('fill', '#666');
chart.append('line').attr('x1', 3801).attr('x2', 3801).attr('y1', 1822).attr('y2', 2110)
  .attr('stroke', 'rgba(0,0,0,0.1)').attr('stroke-width', 2);

chart.selectAll('rect.bar').data(years).join('rect').attr('class', 'bar')
  .attr('x', d => xBar(d)).attr('width', xBar.bandwidth())
  .attr('y', (d, i) => y(linesByYear[i])).attr('height', (d, i) => y(0) - y(linesByYear[i]))
  .attr('fill', '#d4fa9c');
</script>
</body>
</html>
